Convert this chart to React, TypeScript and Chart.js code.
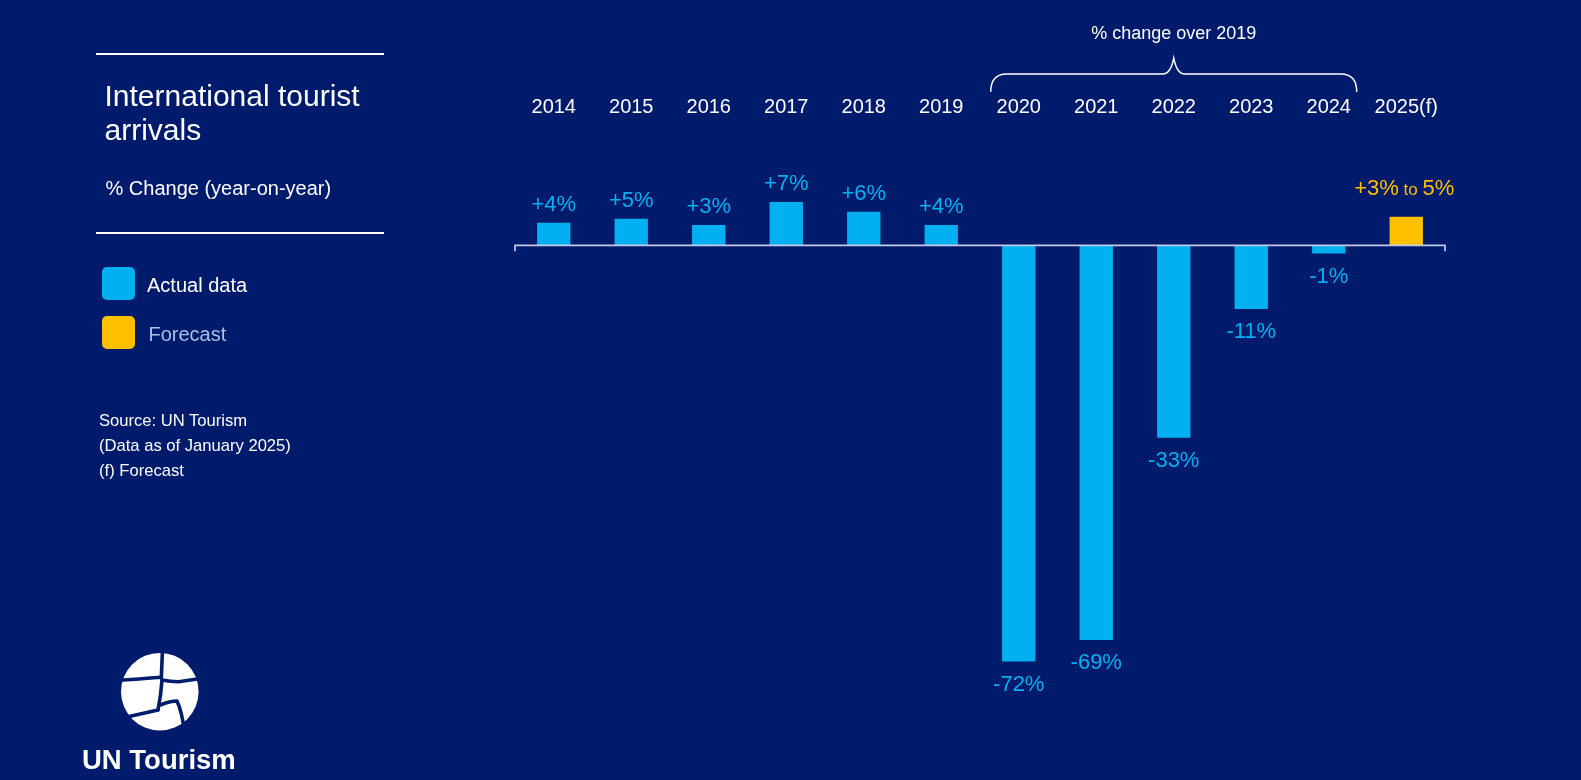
import React, { useEffect, useRef } from "react";
import { Chart, registerables } from "chart.js";

Chart.register(...registerables);

const BG = "#001b6b";
const CYAN = "#00b0f0";
const GOLD = "#ffc000";
const FONT = '"Liberation Sans", Arial, Helvetica, sans-serif';

// ---- data ----
const years = ["2014", "2015", "2016", "2017", "2018", "2019", "2020", "2021", "2022", "2023", "2024", "2025(f)"];
const changeValues = [3.9, 4.6, 3.5, 7.5, 5.8, 3.5, -72, -68.3, -33.3, -11, -1.4, 4.95];
const valueLabels = ["+4%", "+5%", "+3%", "+7%", "+6%", "+4%", "-72%", "-69%", "-33%", "-11%", "-1%", ""];
const forecastFlags = [false, false, false, false, false, false, false, false, false, false, false, true];
const forecastLabelParts = ["+3%", "to", "5%"];
const bracketTitle = "% change over 2019";
const bracketCenterYear = "2022";

const overlayPlugin = {
  id: "overlay",
  afterDatasetsDraw(chart: any) {
    const ctx: CanvasRenderingContext2D = chart.ctx;
    const xs = chart.scales.x;
    const ys = chart.scales.y;
    const y0 = ys.getPixelForValue(0);
    ctx.save();

    // zero line with end ticks
    ctx.strokeStyle = "#c3cbe9";
    ctx.lineWidth = 1.7;
    ctx.beginPath();
    ctx.moveTo(xs.left, y0 + 6);
    ctx.lineTo(xs.left, y0);
    ctx.lineTo(xs.right, y0);
    ctx.lineTo(xs.right, y0 + 6);
    ctx.stroke();

    // value labels
    const meta = chart.getDatasetMeta(0);
    meta.data.forEach((bar: any, i: number) => {
      const v = changeValues[i];
      if (forecastFlags[i]) {
        const big = `22px ${FONT}`;
        const small = `17px ${FONT}`;
        ctx.font = big;
        const w1 = ctx.measureText(forecastLabelParts[0]).width;
        const w3 = ctx.measureText(forecastLabelParts[2]).width;
        ctx.font = small;
        const w2 = ctx.measureText(forecastLabelParts[1]).width;
        const sp = ctx.measureText(" ").width;
        const total = w1 + sp + w2 + sp + w3;
        let cx = bar.x - total / 2 - 2;
        const by = bar.y - 21.6;
        ctx.fillStyle = GOLD;
        ctx.textAlign = "left";
        ctx.textBaseline = "alphabetic";
        ctx.font = big;
        ctx.fillText(forecastLabelParts[0], cx, by);
        cx += w1 + sp;
        ctx.font = small;
        ctx.fillText(forecastLabelParts[1], cx, by);
        cx += w2 + sp;
        ctx.font = big;
        ctx.fillText(forecastLabelParts[2], cx, by);
        return;
      }
      ctx.fillStyle = CYAN;
      ctx.font = `22px ${FONT}`;
      ctx.textAlign = "center";
      ctx.textBaseline = "alphabetic";
      const by = v >= 0 ? bar.y - 11.6 : bar.y + 29.4;
      ctx.fillText(valueLabels[i], bar.x, by);
    });

    // brace over 2020-2024
    const ci = years.indexOf(bracketCenterYear);
    const cx = xs.getPixelForValue(ci);
    const step = xs.getPixelForValue(1) - xs.getPixelForValue(0);
    const half = 2 * step + 28;
    const L = cx - half;
    const R = cx + half;
    const yFlat = 74;
    const yEnd = 92;
    const yTip = 58;
    ctx.strokeStyle = "#ffffff";
    ctx.lineWidth = 1.4;
    ctx.beginPath();
    ctx.moveTo(L, yEnd);
    ctx.quadraticCurveTo(L, yFlat, L + 16, yFlat);
    ctx.lineTo(cx - 11, yFlat);
    ctx.quadraticCurveTo(cx - 3, yFlat, cx, yTip);
    ctx.quadraticCurveTo(cx + 3, yFlat, cx + 11, yFlat);
    ctx.lineTo(R - 16, yFlat);
    ctx.quadraticCurveTo(R, yFlat, R, yEnd);
    ctx.stroke();

    ctx.fillStyle = "#ffffff";
    ctx.font = `18px ${FONT}`;
    ctx.textAlign = "center";
    ctx.textBaseline = "alphabetic";
    ctx.fillText(bracketTitle, cx, 38.5);

    ctx.restore();
  },
};

function ChartCanvas() {
  const ref = useRef<HTMLCanvasElement | null>(null);
  useEffect(() => {
    if (!ref.current) return;
    const chart = new Chart(ref.current, {
      type: "bar",
      data: {
        labels: years,
        datasets: [
          {
            data: changeValues,
            backgroundColor: forecastFlags.map((f) => (f ? GOLD : CYAN)),
            borderWidth: 0,
            barPercentage: 0.43,
            categoryPercentage: 1,
          },
        ],
      },
      options: {
        animation: false,
        responsive: true,
        maintainAspectRatio: false,
        layout: { padding: { left: 515, right: 136, top: 95.7, bottom: 72.3 } },
        plugins: {
          legend: { display: false },
          tooltip: { enabled: false },
          title: { display: false },
        },
        scales: {
          x: {
            position: "top",
            grid: { display: false, drawTicks: false },
            border: { display: false },
            ticks: {
              color: "#ffffff",
              font: { family: FONT, size: 20, lineHeight: 1.2 },
              padding: 10,
              autoSkip: false,
              maxRotation: 0,
              minRotation: 0,
            },
            afterFit: (scale: any) => {
              scale.height = 34;
            },
          },
          y: {
            display: false,
            min: -80,
            max: 20,
          },
        },
      },
      plugins: [overlayPlugin],
    });
    return () => chart.destroy();
  }, []);
  return (
    <div style={{ position: "absolute", left: 0, top: 0, width: 1581, height: 780 }}>
      <canvas ref={ref} />
    </div>
  );
}

function Logo() {
  const navy = BG;
  return (
    <>
      <svg
        width={100}
        height={100}
        viewBox="0 0 100 100"
        style={{ position: "absolute", left: 110, top: 645 }}
      >
        <circle cx={49.8} cy={46.7} r={38.8} fill="#ffffff" />
        <g stroke={navy} strokeWidth={3.6} fill="none" strokeLinecap="round" strokeLinejoin="round">
          <path d="M52.5 4 L51.3 33.3" />
          <path d="M5 35.5 Q30 34 51.3 32.3" />
          <path d="M52 35 Q60 36.7 68.7 36.7 Q80 35 94 33" />
          <path d="M52 35 Q51 50 48 65" />
          <path d="M48 65 Q30 69 8 74" />
          <path d="M50.3 60 Q60 56 67 56 Q72 66 75 90" />
        </g>
      </svg>
      <div
        style={{
          position: "absolute",
          left: 82,
          top: 744.4,
          fontSize: 27.5,
          lineHeight: "32px",
          fontWeight: 700,
          color: "#ffffff",
          whiteSpace: "nowrap",
        }}
      >
        UN Tourism
      </div>
    </>
  );
}

export default function App() {
  const text: React.CSSProperties = { position: "absolute", color: "#ffffff", whiteSpace: "nowrap" };
  return (
    <div
      style={{
        position: "fixed",
        left: 0,
        top: 0,
        width: 1581,
        height: 780,
        background: BG,
        overflow: "hidden",
        fontFamily: FONT,
      }}
    >
      <ChartCanvas />
      <div style={{ position: "absolute", left: 96, top: 53.3, width: 288, height: 2, background: "#ffffff" }} />
      <div style={{ ...text, left: 104.5, top: 78.6, fontSize: 30, lineHeight: "34.5px" }}>
        International tourist
        <br />
        arrivals
      </div>
      <div style={{ ...text, left: 105.5, top: 176, fontSize: 20, lineHeight: "24px" }}>% Change (year-on-year)</div>
      <div style={{ position: "absolute", left: 96, top: 232, width: 288, height: 2, background: "#ffffff" }} />

      <div style={{ position: "absolute", left: 101.7, top: 266.7, width: 33, height: 33, borderRadius: 5, background: CYAN }} />
      <div style={{ ...text, left: 147, top: 272.8, fontSize: 20, lineHeight: "24px" }}>Actual data</div>
      <div style={{ position: "absolute", left: 101.7, top: 316, width: 33, height: 33, borderRadius: 5, background: GOLD }} />
      <div style={{ ...text, left: 148.5, top: 322, fontSize: 20, lineHeight: "24px", color: "#aebfe3" }}>Forecast</div>

      <div style={{ ...text, left: 99, top: 408, fontSize: 16.6, lineHeight: "25.2px" }}>
        Source: UN Tourism
        <br />
        (Data as of January 2025)
        <br />
        (f) Forecast
      </div>

      <Logo />
    </div>
  );
}
